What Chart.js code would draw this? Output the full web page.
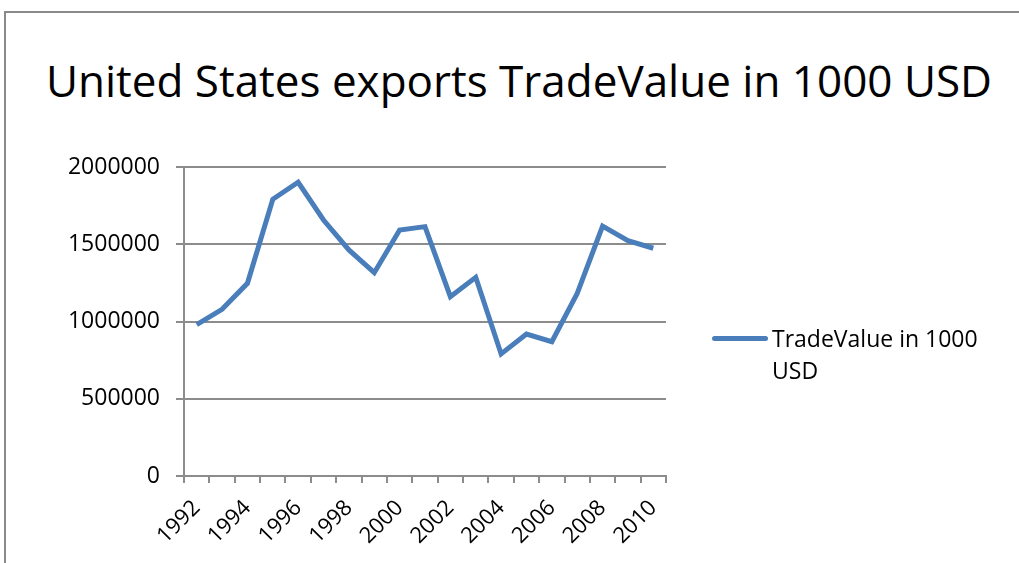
<!DOCTYPE html>
<html>
<head>
<meta charset="utf-8">
<script src="https://cdn.jsdelivr.net/npm/chart.js@4"></script>
<style>
  body { margin: 0; background: #fff; font-family: "Open Sans", sans-serif; }
  #wrap { position: relative; width: 1019px; height: 563px; overflow: hidden; }
  #frame { position: absolute; left: 4px; top: 11px; width: 1100px; height: 600px;
           border-top: 2px solid #8a8a8a; border-left: 2px solid #8a8a8a; box-sizing: border-box; }
  #title { position: absolute; left: 0; width: 1038px; top: 52px; text-align: center;
           font-size: 44px; color: #000; line-height: 56px; white-space: nowrap; }
  #legend { position: absolute; left: 712px; top: 322px; font-size: 23px; line-height: 32px; color: #000; }
  #legend .swatch { position: absolute; left: 0; top: 14px; width: 56px; height: 5px;
                    border-radius: 3px; background: #4a7ebb; }
  #legend .text { margin-left: 60px; width: 260px; }
  canvas { position: absolute; left: 0; top: 0; }
</style>
</head>
<body>
<div id="wrap">
  <div id="frame"></div>
  <div id="title">United States exports TradeValue in 1000 USD</div>
  <canvas id="myChart" width="1019" height="563"></canvas>
  <div id="legend"><div class="swatch"></div><div class="text" id="legendText"></div></div>
</div>
<script>
const years = ["1992", "1993", "1994", "1995", "1996", "1997", "1998", "1999", "2000", "2001",
  "2002", "2003", "2004", "2005", "2006", "2007", "2008", "2009", "2010"];
const tradeValue = [980000, 1079000, 1247000, 1791000, 1901000, 1657000, 1463000, 1316000, 1592000, 1614000,
  1161000, 1286000, 790000, 919000, 869000, 1182000, 1618000, 1523000, 1474000];
const seriesName = "TradeValue in 1000 USD";
const yTicks = [0, 500000, 1000000, 1500000, 2000000];

document.getElementById("legendText").innerHTML = "TradeValue in 1000<br>USD";

const ctx = document.getElementById("myChart").getContext("2d");
const gridColor = "#8c8c8c";

const myChart = new Chart(ctx, {
  type: "line",
  data: {
    labels: years,
    datasets: [
      {
        label: seriesName,
        data: tradeValue,
        borderColor: "#4a7ebb",
        borderWidth: 5,
        pointRadius: 0,
        tension: 0,
        fill: false,
      },
    ],
  },
  options: {
    responsive: false,
    animation: false,
    layout: { padding: { left: 0, right: 353, top: 167, bottom: 0 } },
    plugins: {
      legend: { display: false },
      title: { display: false },
      tooltip: { enabled: false },
    },
    scales: {
      x: {
        offset: true,
        grid: {
          offset: true,
          drawOnChartArea: false,
          drawTicks: true,
          tickLength: 7,
          color: gridColor,
          lineWidth: 2,
        },
        border: { color: gridColor, width: 2 },
        ticks: {
          autoSkip: false,
          maxRotation: 45,
          minRotation: 45,
          padding: 12,
          color: "#000",
          font: { family: "Open Sans", size: 22 },
          callback: function (value, index) {
            return index % 2 === 0 ? years[index] : "";
          },
        },
        afterFit: function (scale) {
          scale.height = 563 - 476;
        },
      },
      y: {
        min: 0,
        max: 2000000,
        afterBuildTicks: function (scale) {
          scale.ticks = yTicks.map((v) => ({ value: v }));
        },
        grid: { color: gridColor, lineWidth: 2, tickLength: 8 },
        border: { color: gridColor, width: 2 },
        ticks: {
          padding: 16,
          color: "#000",
          font: { family: "Open Sans", size: 23 },
          callback: (v) => String(v),
        },
        afterFit: function (scale) {
          scale.width = 184;
        },
      },
    },
  },
});
</script>
</body>
</html>
